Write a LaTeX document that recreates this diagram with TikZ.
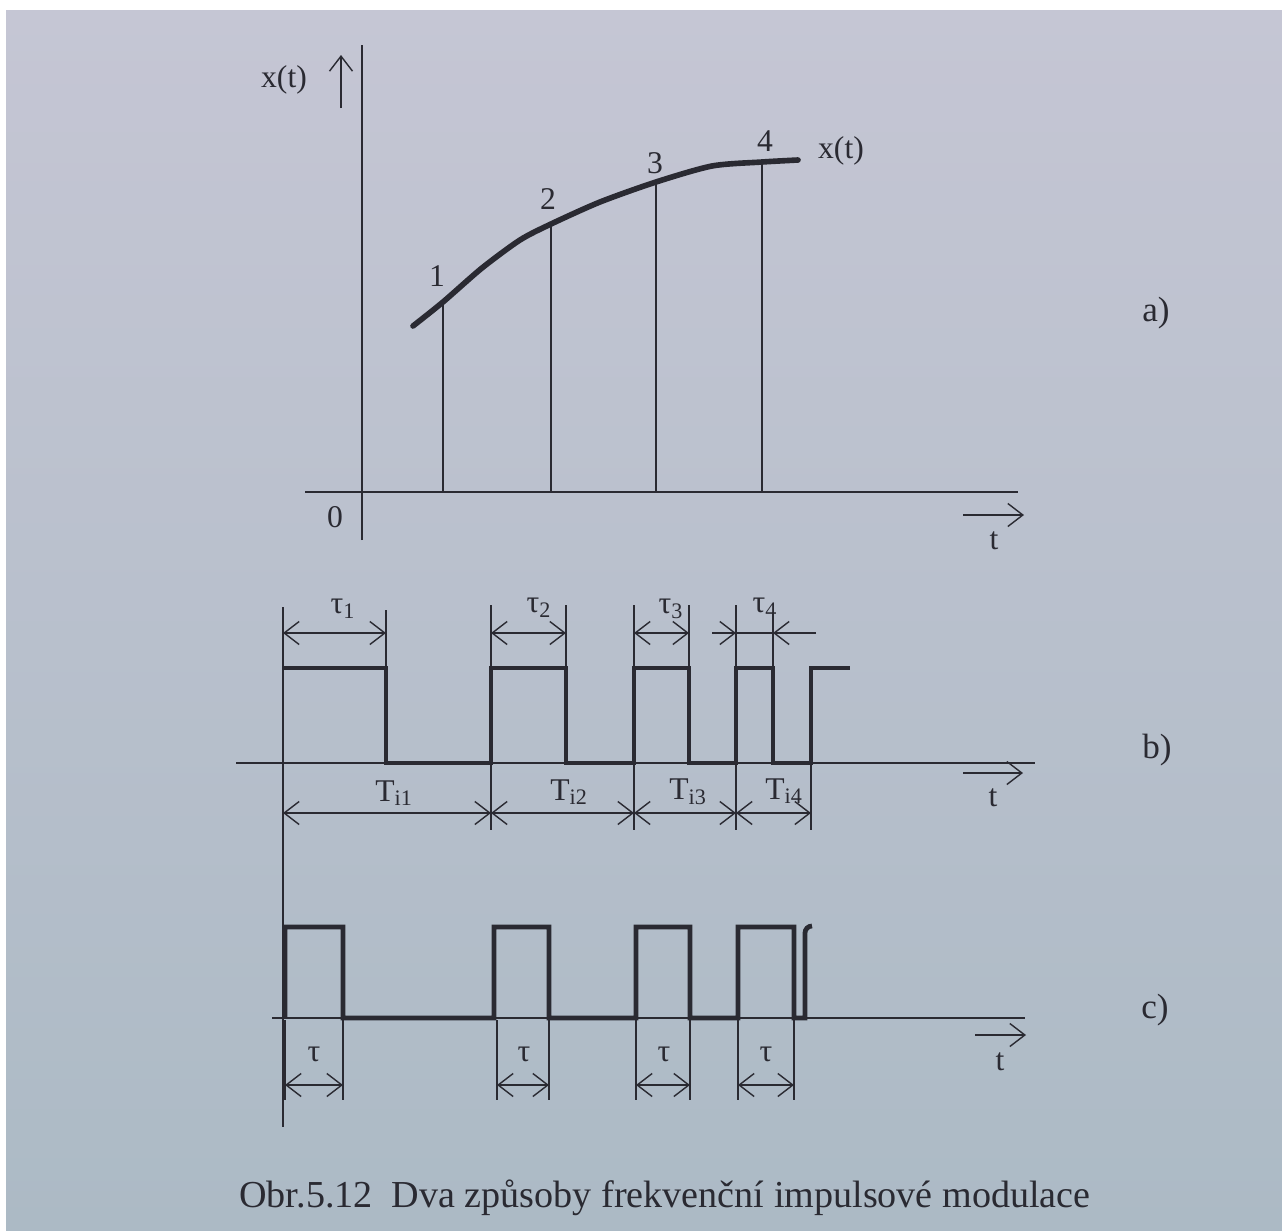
\documentclass[tikz,border=0pt]{standalone}
\usepackage{fontspec}
\setmainfont{Liberation Serif}
\usetikzlibrary{arrows.meta}
\definecolor{ink}{HTML}{2A2A32}
\definecolor{bgtop}{HTML}{C5C6D4}
\definecolor{bgbot}{HTML}{ACBAC5}
\begin{document}
\begin{tikzpicture}[x=0.02cm,y=-0.02cm,
  thinline/.style={draw=ink, line width=0.8pt},
  pulse/.style={draw=ink, line width=2.7pt, line join=miter, line cap=butt},
  curve/.style={draw=ink, line width=3.2pt, line cap=round},
  barb/.tip={Straight Barb[length=3mm,width=4.6mm]},
  dim/.style={thinline, barb-barb},
  arr/.style={thinline, -barb},
  lbl/.style={text=ink, font=\fontsize{18}{20}\selectfont, inner sep=0pt},
  plbl/.style={text=ink, font=\fontsize{20}{22}\selectfont, inner sep=0pt},
  captext/.style={text=ink, font=\fontsize{21.7}{24}\selectfont, inner sep=0pt}]
% background
\fill[white] (0,0) rectangle (1282,1231);
\shade[top color=bgtop, bottom color=bgbot] (6,10) rectangle (1282,1231);
\useasboundingbox (0,0) rectangle (1282,1231);

% ---------- a) ----------
\coordinate (ayb) at (362,540);
\coordinate (ayt) at (362,45);
\coordinate (axl) at (305,492);
\coordinate (axr) at (1018,492);
\draw[thinline] (ayb) -- (ayt);
\draw[thinline] (axl) -- (axr);
\coordinate (upb) at (341,108);
\coordinate (upt) at (341,55);
\draw[arr] (upb) -- (upt);
\node[lbl] (xlab) at (284,80) {x(t)};
\node[lbl] (zero) at (335,517) {0};
\coordinate (ta1) at (963,515);
\coordinate (ta2) at (1024,515);
\draw[arr] (ta1) -- (ta2);
\node[lbl] (tlabA) at (994,541) {t};
\draw[curve] plot[smooth, tension=0.45] coordinates {(413,326) (443,302) (482,268) (520,240) (551,224) (600,202) (656,182) (712,166) (762,162) (798,160)};
\foreach \x/\y/\n in {443/302/1, 551/224/2, 656/182/3, 762/162/4}{
  \coordinate (s\n) at (\x,\y);
  \coordinate (s\n b) at (\x,492);
  \draw[thinline] (s\n) -- (s\n b);
}
\node[lbl] (n1) at (437,276) {1};
\node[lbl] (n2) at (548,199) {2};
\node[lbl] (n3) at (655,163) {3};
\node[lbl] (n4) at (765,141) {4};
\node[lbl] (xcurve) at (841,151) {x(t)};
\node[plbl] (la) at (1156,313) {a)};

% ---------- b) ----------
\coordinate (bl) at (236,763);
\coordinate (br) at (1035,763);
\draw[thinline] (bl) -- (br);
% extension lines
\draw[thinline] (283,607) -- (283,1127);
\draw[thinline] (386,610) -- (386,668);
\foreach \x in {491,634,736}{\draw[thinline] (\x,605) -- (\x,830);}
\draw[thinline] (566,605) -- (566,668);
\draw[thinline] (689,605) -- (689,668);
\draw[thinline] (773,612) -- (773,668);
\draw[thinline] (811,763) -- (811,830);
% pulse train
\draw[pulse] (283,668) -- (386,668) -- (386,763) -- (491,763) -- (491,668) -- (566,668) -- (566,763)
  -- (634,763) -- (634,668) -- (689,668) -- (689,763) -- (736,763) -- (736,668) -- (773,668)
  -- (773,763) -- (811,763) -- (811,668) -- (850,668);
% tau dims
\draw[dim] (283,633) -- (386,633);
\draw[dim] (491,633) -- (566,633);
\draw[dim] (634,633) -- (689,633);
\coordinate (t4a) at (712,633);
\coordinate (t4b) at (736,633);
\coordinate (t4c) at (773,633);
\coordinate (t4d) at (816,633);
\draw[thinline] (t4b) -- (t4c);
\draw[arr] (t4a) -- (t4b);
\draw[arr] (t4d) -- (t4c);
\node[lbl] (tau1) at (343,609) {τ\textsubscript{1}};
\node[lbl] (tau2) at (539,608) {τ\textsubscript{2}};
\node[lbl] (tau3) at (671,609) {τ\textsubscript{3}};
\node[lbl] (tau4) at (765,608) {τ\textsubscript{4}};
% period dims
\draw[dim] (283,813) -- (491,813);
\draw[dim] (491,813) -- (634,813);
\draw[dim] (634,813) -- (736,813);
\draw[dim] (736,813) -- (811,813);
\node[lbl] (T1) at (394,793) {T\textsubscript{i1}};
\node[lbl] (T2) at (569,792) {T\textsubscript{i2}};
\node[lbl] (T3) at (688,792) {T\textsubscript{i3}};
\node[lbl] (T4) at (784,791) {T\textsubscript{i4}};
\coordinate (tb1) at (963,773);
\coordinate (tb2) at (1023,773);
\draw[arr] (tb1) -- (tb2);
\node[lbl] (tlabB) at (993,798) {t};
\node[plbl] (lb) at (1157,750) {b)};

% ---------- c) ----------
\coordinate (cl) at (272,1018);
\coordinate (cr) at (1025,1018);
\draw[thinline] (cl) -- (cr);
\draw[pulse] (285,1018) -- (285,927) -- (343,927) -- (343,1018) -- (494,1018) -- (494,927) -- (549,927)
  -- (549,1018) -- (636,1018) -- (636,927) -- (690,927) -- (690,1018) -- (738,1018) -- (738,927)
  -- (794,927) -- (794,1018) -- (805,1018) -- (805,933) to[out=90,in=180] (812,926);
\foreach \a/\b in {285/343, 497/549, 636/690, 738/794}{
  \draw[thinline] (\b,1020) -- (\b,1100);
  \draw[thinline] (\a,1020) -- (\a,1100);
  \draw[dim] (\a,1085) -- (\b,1085);
}
\node[lbl] (tc1) at (314,1054) {τ};
\node[lbl] (tc2) at (524,1054) {τ};
\node[lbl] (tc3) at (664,1054) {τ};
\node[lbl] (tc4) at (766,1054) {τ};
\coordinate (tcc1) at (975,1035);
\coordinate (tcc2) at (1026,1035);
\draw[arr] (tcc1) -- (tcc2);
\node[lbl] (tlabC) at (1000,1062) {t};
\node[plbl] (lc) at (1155,1010) {c)};

% caption
\node[captext] (caption) at (665,1198) {Obr.5.12\ \ Dva způsoby frekvenční impulsové modulace};
\end{tikzpicture}
\end{document}
